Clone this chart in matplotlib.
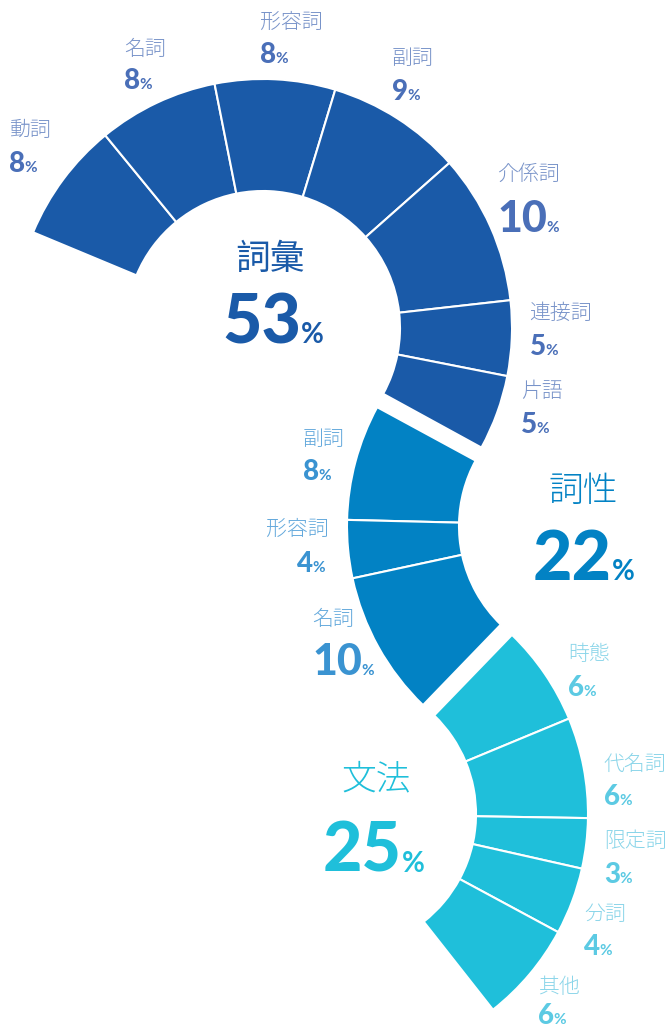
"""Question-mark shaped breakdown: 詞彙 / 詞性 / 文法"""
import matplotlib.pyplot as plt
from matplotlib import font_manager as fm
from matplotlib.patches import Wedge

W, H = 667, 1028

# data
group_names = ['詞彙', '詞性', '文法']
group_pct = [53, 22, 25]

vocab_labels = ['動詞', '名詞', '形容詞', '副詞', '介係詞', '連接詞', '片語']
vocab_values = [8, 8, 8, 9, 10, 5, 5]
pos_labels = ['副詞', '形容詞', '名詞']
pos_values = [8, 4, 10]
grammar_labels = ['時態', '代名詞', '限定詞', '分詞', '其他']
grammar_values = [6, 6, 3, 4, 6]

# layout (pixels, visual angles in degrees, y up)
R_OUT, R_IN = 249, 137
arcs = [
    dict(center=(263, 328), start=157.4, end=-28.7, fill='#1a5aa8',
         name_c='#7893c9', pct_c='#4a6fb8', big_c='#1a5aa8', big_w='regular',
         title_xy=(270, 259), num_xy=(222, 343),
         name_xy=[(9, 130), (124, 49), (260, 22), (392, 58), (497, 174), (529, 313), (521, 391)],
         pct_xy=[(9, 172), (124, 89), (260, 63), (392, 100), (497, 232), (530, 355), (521, 433)]),
    dict(center=(596, 526), start=151.5, end=226.0, fill='#0282c4',
         name_c='#64a9dc', pct_c='#3a93d1', big_c='#0282c4', big_w='light',
         title_xy=(583, 491), num_xy=(533, 580),
         name_xy=[(303, 439), (266, 529), (312, 619)],
         pct_xy=[(303, 480), (297, 572), (312, 675)]),
    dict(center=(339, 814), start=46.0, end=-51.8, fill='#1fbfda',
         name_c='#8ad5e9', pct_c='#5ccae3', big_c='#1fbfda', big_w='light',
         title_xy=(376, 779), num_xy=(323, 872),
         name_xy=[(568, 654), (603, 764), (604, 841), (584, 914), (538, 987)],
         pct_xy=[(568, 696), (604, 805), (604, 883), (584, 955), (538, 1024)]),
]
series = [(vocab_labels, vocab_values), (pos_labels, pos_values),
          (grammar_labels, grammar_values)]

NUM = ['Lato', 'DejaVu Sans']


def weight_num(w):
    if isinstance(w, str):
        return fm.weight_dict.get(w, 400)
    return w


# look for a thin CJK face, fall back to the regular one
CJK = ['Noto Sans CJK TC', 'DejaVu Sans']
CJK_THIN = dict(family=CJK, fontweight='regular')
thin = [f for f in fm.fontManager.ttflist
        if 'CJK' in f.name and weight_num(f.weight) < 400]
if thin:
    thin.sort(key=lambda f: (('TC' not in f.name), abs(weight_num(f.weight) - 300)))
    CJK_THIN = dict(family=[thin[0].name, 'DejaVu Sans'],
                    fontweight=weight_num(thin[0].weight))

fig = plt.figure(figsize=(W / 100, H / 100), dpi=100)
ax = fig.add_axes([0, 0, 1, 1])
ax.set_xlim(0, W)
ax.set_ylim(H, 0)
ax.set_aspect('equal')
ax.axis('off')


def add_pct(x, y, value, size, small, color):
    t = ax.text(x, y, str(value), ha='left', va='baseline', fontsize=size,
                fontweight='black', color=color, family=NUM)
    ax.annotate('%', xy=(1, y), xycoords=(t, 'data'), xytext=(-0.3, 0),
                textcoords='offset points', ha='left', va='baseline',
                fontsize=small, fontweight='bold', color=color, family=NUM)


for arc, (labels, values), gname, gval in zip(arcs, series, group_names, group_pct):
    total = sum(values)
    span = arc['end'] - arc['start']
    a0 = arc['start']
    for i, v in enumerate(values):
        a1 = a0 + span * v / total
        lo, hi = sorted((a0, a1))
        # y axis is inverted, so visual angle -> data angle is negated
        ax.add_patch(Wedge(arc['center'], R_OUT, -hi, -lo, width=R_OUT - R_IN,
                           facecolor=arc['fill'], edgecolor='white', linewidth=1.5))
        a0 = a1

        nx, ny = arc['name_xy'][i]
        ax.text(nx, ny, labels[i], ha='left', va='center', fontsize=15,
                color=arc['name_c'], **CJK_THIN)
        px, py = arc['pct_xy'][i]
        add_pct(px, py, v, 31 if v >= 10 else 20, 11, arc['pct_c'])

    tx, ty = arc['title_xy']
    title_font = CJK_THIN if arc['big_w'] == 'light' else dict(family=CJK, fontweight='regular')
    ax.text(tx, ty, gname, ha='center', va='center', fontsize=25,
            color=arc['big_c'], **title_font)
    bx, by = arc['num_xy']
    add_pct(bx, by, gval, 49, 20, arc['big_c'])

fig.savefig('out.png', dpi=100)
